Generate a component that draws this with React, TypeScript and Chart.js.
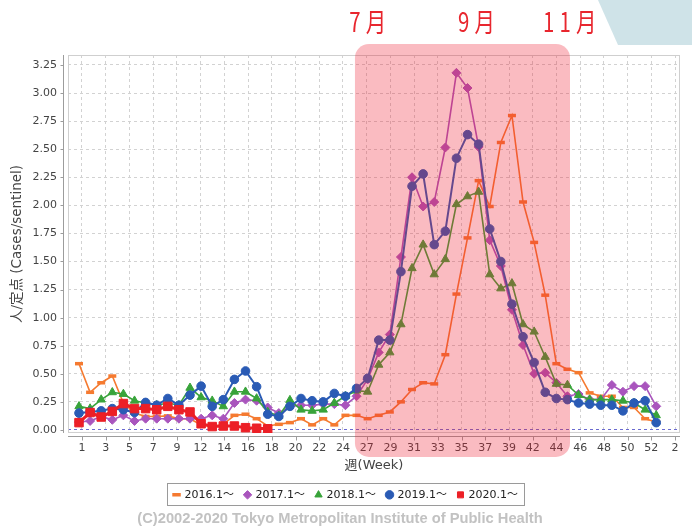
import React, { useEffect, useRef } from 'react';
import { Chart, registerables } from 'chart.js';

Chart.register(...registerables);

const FONT = '"DejaVu Sans", "Noto Sans CJK JP", sans-serif';

const WEEKS = [1, 2, 3, 4, 5, 6, 7, 8, 9, 10, 11, 12, 13, 14, 15, 16, 17, 18, 19, 20, 21, 22, 23, 24, 25, 26, 27, 28, 29, 30, 31, 32, 33, 34, 35, 36, 37, 38, 39, 40, 41, 42, 43, 44, 45, 46, 47, 48, 49, 50, 51, 52, 53];

const Y2016 = [0.59, 0.335, 0.42, 0.48, 0.24, 0.15, 0.12, 0.12, 0.125, 0.10, 0.10, 0.045, 0.03, 0.05, 0.13, 0.14, 0.10, 0.035, 0.05, 0.065, 0.10, 0.045, 0.10, 0.045, 0.13, 0.13, 0.10, 0.13, 0.16, 0.25, 0.36, 0.42, 0.41, 0.67, 1.21, 1.71, 2.22, 1.99, 2.56, 2.80, 2.03, 1.67, 1.20, 0.59, 0.54, 0.51, 0.33, 0.30, 0.30, 0.20, 0.20, 0.10, 0.07];
const Y2017 = [0.07, 0.08, 0.12, 0.09, 0.13, 0.08, 0.10, 0.10, 0.10, 0.10, 0.10, 0.10, 0.13, 0.10, 0.24, 0.27, 0.26, 0.20, 0.15, 0.21, 0.22, 0.22, 0.23, 0.23, 0.22, 0.30, 0.45, 0.69, 0.85, 1.54, 2.25, 1.99, 2.03, 2.515, 3.18, 3.045, 2.52, 1.69, 1.46, 1.07, 0.756, 0.50, 0.51, 0.42, 0.30, 0.32, 0.27, 0.27, 0.40, 0.34, 0.39, 0.39, 0.21];
const Y2018 = [0.21, 0.19, 0.27, 0.335, 0.32, 0.26, 0.24, 0.22, 0.24, 0.22, 0.375, 0.29, 0.26, 0.21, 0.34, 0.34, 0.28, 0.16, 0.125, 0.265, 0.18, 0.17, 0.18, 0.24, 0.30, 0.35, 0.34, 0.58, 0.69, 0.94, 1.44, 1.65, 1.385, 1.52, 2.01, 2.08, 2.12, 1.385, 1.26, 1.305, 0.94, 0.875, 0.65, 0.41, 0.40, 0.31, 0.27, 0.27, 0.27, 0.26, 0.24, 0.18, 0.13];
const Y2019 = [0.15, 0.16, 0.17, 0.19, 0.18, 0.155, 0.245, 0.22, 0.28, 0.22, 0.31, 0.39, 0.21, 0.27, 0.45, 0.525, 0.385, 0.14, 0.12, 0.21, 0.28, 0.26, 0.25, 0.325, 0.30, 0.37, 0.46, 0.80, 0.80, 1.41, 2.17, 2.28, 1.65, 1.77, 2.42, 2.63, 2.545, 1.79, 1.50, 1.12, 0.83, 0.60, 0.335, 0.28, 0.27, 0.24, 0.23, 0.22, 0.22, 0.17, 0.24, 0.26, 0.065];
const Y2020 = [0.065, 0.155, 0.115, 0.165, 0.235, 0.19, 0.19, 0.18, 0.21, 0.18, 0.16, 0.055, 0.03, 0.035, 0.035, 0.02, 0.015, 0.01];

const SERIES_LABELS = ['2016.1～', '2017.1～', '2018.1～', '2019.1～', '2020.1～'];

const X_TICK_LABELS = ['1', '3', '5', '7', '9', '12', '14', '16', '18', '20', '22', '24', '27', '29', '31', '33', '35', '37', '39', '42', '44', '46', '48', '50', '52', '2'];
const X_TICK_START = 1.27;
const X_TICK_STEP = 2.137;

const Y_TICKS = [0, 0.25, 0.5, 0.75, 1.0, 1.25, 1.5, 1.75, 2.0, 2.25, 2.5, 2.75, 3.0, 3.25];

const HIGHLIGHT_FROM = 25.86;
const HIGHLIGHT_TO = 45.23;

const MONTH_MARKS = [
  { label: '7月', week: 27.0 },
  { label: '9月', week: 36.8 },
  { label: '11月', week: 45.2 },
];

const decorPlugin = {
  id: 'decor',
  afterLayout(chart: any) {
    const lg = chart.legend;
    if (lg) {
      lg.left += 6;
      lg.right += 6;
    }
  },
  beforeDraw(chart: any) {
    const { ctx, width } = chart;
    ctx.save();
    ctx.fillStyle = '#cfe3e8';
    ctx.beginPath();
    ctx.moveTo(width - 94, 0);
    ctx.lineTo(width, 0);
    ctx.lineTo(width, 45);
    ctx.lineTo(width - 74, 45);
    ctx.closePath();
    ctx.fill();
    ctx.restore();
  },
  beforeDatasetsDraw(chart: any) {
    const { ctx, chartArea: ca, scales } = chart;
    ctx.save();
    ctx.lineWidth = 1;
    ctx.strokeStyle = '#cfcfcf';
    ctx.strokeRect(ca.left + 0.5, ca.top + 0.5, ca.width - 1, ca.height - 1);
    ctx.strokeStyle = '#9c9c9c';
    const ax = Math.round(ca.left - 5) + 0.5;
    const ay = Math.round(ca.bottom + 3) + 0.5;
    ctx.beginPath();
    ctx.moveTo(ax, ca.top);
    ctx.lineTo(ax, ca.bottom);
    scales.y.ticks.forEach((t: any) => {
      const py = Math.round(scales.y.getPixelForValue(t.value)) + 0.5;
      ctx.moveTo(ax - 3, py);
      ctx.lineTo(ax, py);
    });
    ctx.moveTo(ca.left, ay);
    ctx.lineTo(ca.right, ay);
    scales.x.ticks.forEach((t: any) => {
      const px = Math.round(scales.x.getPixelForValue(t.value)) + 0.5;
      ctx.moveTo(px, ay);
      ctx.lineTo(px, ay + 4);
    });
    ctx.stroke();
    ctx.restore();
  },
  afterDraw(chart: any) {
    const { ctx, chartArea: ca, scales, legend } = chart;
    ctx.save();
    if (legend && legend.legendHitBoxes && legend.legendHitBoxes.length) {
      const hb = legend.legendHitBoxes;
      let l = Infinity, r = -Infinity, t = Infinity, b = -Infinity;
      hb.forEach((h: any) => {
        l = Math.min(l, h.left);
        r = Math.max(r, h.left + h.width);
        t = Math.min(t, h.top);
        b = Math.max(b, h.top + h.height);
      });
      ctx.strokeStyle = '#9a9a9a';
      ctx.lineWidth = 1;
      ctx.strokeRect(Math.round(l - 7) + 0.5, Math.round(t - 6) + 0.5, Math.round(r - l + 13), Math.round(b - t + 11));
    }
    const x1 = scales.x.getPixelForValue(HIGHLIGHT_FROM);
    const x2 = scales.x.getPixelForValue(HIGHLIGHT_TO);
    const top = ca.top - 11;
    const bottom = ca.bottom + 24;
    ctx.fillStyle = 'rgba(240, 30, 50, 0.3)';
    ctx.beginPath();
    ctx.roundRect(x1, top, x2 - x1, bottom - top, 14);
    ctx.fill();
    ctx.fillStyle = '#e8262e';
    ctx.font = '24px "Noto Sans CJK JP", sans-serif';
    ctx.textAlign = 'center';
    ctx.textBaseline = 'alphabetic';
    MONTH_MARKS.forEach((m) => {
      const px = scales.x.getPixelForValue(m.week);
      ctx.save();
      ctx.translate(px, 32);
      ctx.scale(0.85, 1.1);
      (ctx as any).letterSpacing = '6px';
      ctx.fillText(m.label, 3, 0);
      ctx.restore();
    });
    ctx.restore();
  },
};

export default function App() {
  const ref = useRef<HTMLCanvasElement | null>(null);

  useEffect(() => {
    document.body.style.margin = '0';
    const canvas = ref.current;
    if (!canvas) return;
    Chart.defaults.font.family = FONT;

    const mk = (label: string, data: number[], color: string, style: string, radius: number, lw: number, order: number, pbw = 1) => ({
      label,
      data,
      borderColor: color,
      backgroundColor: color,
      pointBackgroundColor: color,
      pointBorderColor: color,
      pointStyle: style,
      pointRadius: radius,
      pointBorderWidth: pbw,
      borderWidth: lw,
      tension: 0,
      order,
    });

    const chart = new Chart(canvas, {
      type: 'line',
      data: {
        labels: WEEKS,
        datasets: [
          mk(SERIES_LABELS[0], Y2016, '#f57a30', 'line', 4, 1.6, 5, 3.5),
          mk(SERIES_LABELS[1], Y2017, '#a955bd', 'rectRot', 4.5, 1.6, 4),
          mk(SERIES_LABELS[2], Y2018, '#38a33a', 'triangle', 4.8, 1.6, 3),
          mk(SERIES_LABELS[3], Y2019, '#2a5bb5', 'circle', 4.3, 2, 2),
          mk(SERIES_LABELS[4], Y2020, '#ec1f26', 'rect', 6, 3, 1),
        ] as any,
      },
      options: {
        animation: false,
        responsive: false,
        events: [],
        layout: { padding: { top: 55, bottom: 0, left: 0, right: 12 } },
        scales: {
          x: {
            type: 'linear',
            min: 0.009,
            max: 55.14,
            afterFit: (s: any) => { s.height = 45.4; },
            afterBuildTicks: (s: any) => {
              s.ticks = X_TICK_LABELS.map((_, i) => ({ value: X_TICK_START + i * X_TICK_STEP }));
            },
            ticks: {
              autoSkip: false,
              maxRotation: 0,
              minRotation: 0,
              padding: 9,
              color: '#444',
              font: { size: 11 },
              callback: (_v: any, i: number) => X_TICK_LABELS[i],
            },
            grid: { color: '#d2d2d2', lineWidth: 1, drawTicks: false },
            border: { display: false, dash: [3, 3] },
            title: {
              display: true,
              text: '週(Week)',
              color: '#444',
              font: { size: 13 },
              padding: { top: 0, bottom: 4.6 },
            },
          },
          y: {
            type: 'linear',
            min: -0.027,
            max: 3.339,
            afterFit: (s: any) => { s.width = 68; },
            afterBuildTicks: (s: any) => {
              s.ticks = Y_TICKS.map((v) => ({ value: v }));
            },
            ticks: {
              padding: 11,
              color: '#444',
              font: { size: 11 },
              callback: (v: any) => Number(v).toFixed(2),
            },
            grid: {
              drawTicks: false,
              lineWidth: 1,
              color: (c: any) => (c.tick && c.tick.value === 0 ? '#6a6ad0' : '#d2d2d2'),
            },
            border: { display: false, dash: [3, 3] },
            title: {
              display: true,
              text: '人/定点 (Cases/sentinel)',
              color: '#444',
              font: { size: 13.5 },
              padding: { top: 9, bottom: 0 },
            },
          },
        },
        plugins: {
          tooltip: { enabled: false },
          legend: {
            position: 'bottom',
            labels: {
              usePointStyle: true,
              boxWidth: 5,
              boxHeight: 6,
              padding: 11,
              color: '#222',
              font: { size: 11 },
              sort: (a: any, b: any) => a.datasetIndex - b.datasetIndex,
            },
          },
          title: {
            display: true,
            position: 'bottom',
            text: '(C)2002-2020 Tokyo Metropolitan Institute of Public Health',
            color: '#c2c2c2',
            font: { family: '"Liberation Sans", sans-serif', size: 14.7, weight: 'bold' },
            padding: { top: 0, bottom: 0 },
          },
        },
      } as any,
      plugins: [decorPlugin],
    });
    return () => chart.destroy();
  }, []);

  return <canvas ref={ref} width={692} height={528} style={{ display: 'block', width: 692, height: 528 }} />;
}
